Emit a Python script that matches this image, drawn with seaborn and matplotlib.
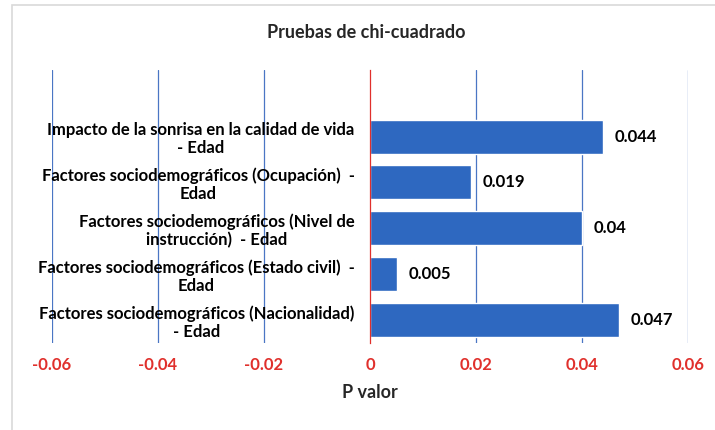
import pandas as pd
import matplotlib.pyplot as plt
import matplotlib.patches as mpatches
import seaborn as sns

sns.set_theme(style="white")
plt.rcParams['font.family'] = ['Lato', 'DejaVu Sans']

# datos
categorias = [
    "Impacto de la sonrisa en la calidad de vida\n- Edad",
    "Factores sociodemográficos (Ocupación)  -\nEdad",
    "Factores sociodemográficos (Nivel de\ninstrucción)  - Edad",
    "Factores sociodemográficos (Estado civil)  -\nEdad",
    "Factores sociodemográficos (Nacionalidad)\n- Edad",
]
p_valor = [0.044, 0.019, 0.04, 0.005, 0.047]
etiquetas = ["0.044", "0.019", "0.04", "0.005", "0.047"]
xticks = [-0.06, -0.04, -0.02, 0, 0.02, 0.04, 0.06]
xtick_labels = ["-0.06", "-0.04", "-0.02", "0", "0.02", "0.04", "0.06"]

df = pd.DataFrame({"categoria": categorias, "p": p_valor})

azul = "#2E68C0"
rojo = "#E0302C"
grid_azul = "#4A76C4"

fig = plt.figure(figsize=(7.15, 4.3), dpi=100)
ax = fig.add_axes([52/715, 1 - 343/430, 636/715, 273/430])

sns.barplot(data=df, x="p", y="categoria", orient="h", color=azul,
            width=0.74, saturation=1, ax=ax)

ax.set_xlim(-0.06, 0.06)
ax.set_ylim(4.5, -1.45)
ax.set_xticks(xticks)
ax.set_xticklabels(xtick_labels, color=rojo, fontweight="bold", fontsize=12)

# lineas verticales
for xv in xticks:
    if xv != 0:
        ax.axvline(xv, color=grid_azul, lw=0.9, zorder=0)

for s in ["top", "right", "bottom"]:
    ax.spines[s].set_visible(False)
ax.spines["left"].set_position(("data", 0))
ax.spines["left"].set_color(rojo)
ax.spines["left"].set_linewidth(0.9)

ax.tick_params(axis="y", length=0, pad=11)
ax.tick_params(axis="x", length=0, pad=10)
for lab in ax.get_yticklabels():
    lab.set_fontweight("bold")
    lab.set_fontsize(12)
    lab.set_multialignment("center")
    lab.set_linespacing(1.15)
    lab.set_color("black")

ax.set_ylabel("")
ax.set_xlabel("P valor", fontweight="bold", fontsize=13, labelpad=8)

# etiquetas de datos
for i, (v, t) in enumerate(zip(p_valor, etiquetas)):
    ax.text(v + 0.0022, i, t, va="center", ha="left",
            fontweight="bold", fontsize=12, color="black")

fig.text(0.512, 1 - 33/430, "Pruebas de chi-cuadrado", ha="center", va="center",
         fontweight="bold", fontsize=13)

# borde del grafico
fig.patches.append(mpatches.Rectangle((12/715, -0.05), 1.1, 1 - 5/430 + 0.05,
                                      transform=fig.transFigure, fill=False,
                                      edgecolor="#D9D9D9", lw=1.2))

fig.savefig("out.png", dpi=100)
